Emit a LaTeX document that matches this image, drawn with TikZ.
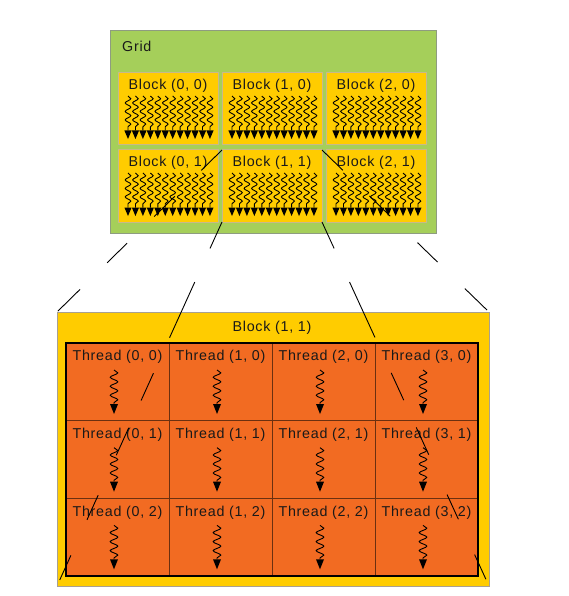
\documentclass[tikz,border=0pt]{standalone}
\usepackage{fontspec}
\setmainfont{Liberation Sans}[LetterSpace=5]
\usetikzlibrary{decorations.pathmorphing}
\definecolor{gridgreen}{HTML}{A5CF5A}
\definecolor{gridedge}{HTML}{8E9C80}
\definecolor{blockgold}{HTML}{FFCC00}
\definecolor{blockedge}{HTML}{C9B98A}
\definecolor{bigedge}{HTML}{A8A090}
\definecolor{threadorange}{HTML}{F26B22}
\definecolor{celledge}{HTML}{6B3010}
\tikzset{
  gridbox/.style={draw=gridedge, fill=gridgreen, line width=1pt, inner sep=0pt, outer sep=0pt, minimum width=326pt, minimum height=202pt, anchor=north west},
  blockbox/.style={draw=blockedge, fill=blockgold, line width=1pt, inner sep=0pt, outer sep=0pt, minimum width=100pt, minimum height=72pt, anchor=north west},
  bigbox/.style={draw=bigedge, fill=blockgold, line width=1pt, inner sep=0pt, outer sep=0pt, minimum width=432pt, minimum height=274pt, anchor=north west},
  cellbox/.style={draw=celledge, fill=threadorange, line width=1pt, inner sep=0pt, outer sep=0pt, minimum width=103pt, minimum height=77.67pt, anchor=north west},
  lbl/.style={inner sep=0pt, font=\fontsize{14.3}{16}\selectfont, text=black!90},
  wave/.style={decorate, decoration={snake, amplitude=3.8pt, segment length=9pt}, line width=0.9pt},
  tinywave/.style={decorate, decoration={snake, amplitude=2.8pt, segment length=8.5pt}, line width=0.9pt},
  toplinedash/.style={line width=0.9pt, dash pattern=on 29pt off 37pt on 29pt off 38pt on 28pt off 38pt on 31pt off 20pt},
  botlinedash/.style={line width=0.9pt, dash pattern=on 29pt off 37pt on 61pt off 39pt on 30pt off 30pt on 30pt off 44pt on 27pt off 39pt on 27pt off 20pt}
}
\newcommand\blockwaves[2]{% left, top
  \foreach \k in {0,...,11}{
    \pgfmathsetmacro\wx{#1+10+7.45*\k}
    \draw[tinywave] (\wx,#2+23) -- (\wx,#2+57.5);
    \fill (\wx-3.6,#2+57.5) -- (\wx+3.6,#2+57.5) -- (\wx,#2+66) -- cycle;
  }}
\newcommand\threadwave[2]{% left, top
  \pgfmathsetmacro\wx{#1+48}
  \draw[wave] (\wx,#2+27) -- (\wx,#2+61);
  \fill (\wx-4,#2+61) -- (\wx+4,#2+61) -- (\wx,#2+71) -- cycle;}
\begin{document}
\begin{tikzpicture}[x=1pt,y=-1pt]
\useasboundingbox (0,0) rectangle (568,596);
\fill[white] (0,0) rectangle (568,596);
% grid
\node[gridbox] (grid) at (110,31) {};
\node[lbl, anchor=west] (gridlabel) at (122,46) {Grid};
\foreach \i in {0,1,2}{
  \foreach \j in {0,1}{
    \pgfmathsetmacro\bx{118+104*\i}
    \pgfmathsetmacro\by{73+77*\j}
    \node[blockbox] (b\i\j) at (\bx,\by) {};
    \node[lbl] (bl\i\j) at (\bx+50,\by+13) {Block (\i, \j)};
    \blockwaves{\bx}{\by}
  }
}
% enlarged block
\node[bigbox] (big) at (57,312) {};
\node[lbl] (bigtitle) at (272,328) {Block (1, 1)};
\foreach \i in {0,...,3}{
  \foreach \j in {0,1,2}{
    \pgfmathsetmacro\cx{66+103*\i}
    \pgfmathsetmacro\cy{343+77.67*\j}
    \node[cellbox] (t\i\j) at (\cx,\cy) {};
    \node[lbl] (tl\i\j) at (\cx+51.5,\cy+14) {Thread (\i, \j)};
    \threadwave{\cx}{\cy}
  }
}
\draw[line width=2pt] (t00.north west) rectangle (t32.south east);
% connectors
\draw[toplinedash] (b11.north west) -- (big.north west);
\draw[toplinedash] (b11.north east) -- (big.north east);
\draw[botlinedash] (b11.south west) -- (big.south west);
\draw[botlinedash] (b11.south east) -- (big.south east);
\end{tikzpicture}
\end{document}
